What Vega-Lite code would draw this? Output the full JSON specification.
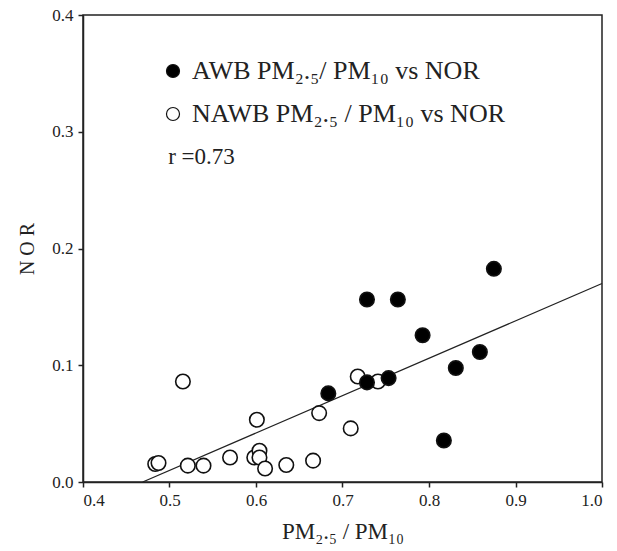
{
  "$schema": "https://vega.github.io/schema/vega-lite/v6.json",
  "autosize": {"type": "none"},
  "width": 519,
  "height": 467,
  "padding": {"left": 83, "top": 15, "right": 15, "bottom": 69},
  "background": "white",
  "config": {
    "view": {"stroke": "#222", "strokeWidth": 1.5},
    "font": "Liberation Serif",
    "axis": {"grid": false, "domainColor": "#222", "tickColor": "#222", "domainWidth": 1.5, "tickWidth": 1.5, "tickSize": 5, "labelColor": "#222", "titleColor": "#222", "labelFont": "Liberation Serif", "titleFont": "Liberation Serif", "labelFontSize": 17, "titleFontWeight": "normal"}
  },
  "datasets": {
    "pts": [
      {"x": 0.4835, "y": 0.0154, "group": "NAWB"},
      {"x": 0.4873, "y": 0.0163, "group": "NAWB"},
      {"x": 0.5155, "y": 0.0861, "group": "NAWB"},
      {"x": 0.5212, "y": 0.014, "group": "NAWB"},
      {"x": 0.5393, "y": 0.014, "group": "NAWB"},
      {"x": 0.570, "y": 0.021, "group": "NAWB"},
      {"x": 0.601, "y": 0.0533, "group": "NAWB"},
      {"x": 0.598, "y": 0.021, "group": "NAWB"},
      {"x": 0.604, "y": 0.0268, "group": "NAWB"},
      {"x": 0.604, "y": 0.021, "group": "NAWB"},
      {"x": 0.6105, "y": 0.0116, "group": "NAWB"},
      {"x": 0.635, "y": 0.0146, "group": "NAWB"},
      {"x": 0.666, "y": 0.0183, "group": "NAWB"},
      {"x": 0.673, "y": 0.059, "group": "NAWB"},
      {"x": 0.7095, "y": 0.0459, "group": "NAWB"},
      {"x": 0.7176, "y": 0.0904, "group": "NAWB"},
      {"x": 0.741, "y": 0.0861, "group": "NAWB"},
      {"x": 0.6836, "y": 0.0759, "group": "AWB"},
      {"x": 0.7283, "y": 0.1563, "group": "AWB"},
      {"x": 0.764, "y": 0.1563, "group": "AWB"},
      {"x": 0.7283, "y": 0.0853, "group": "AWB"},
      {"x": 0.7533, "y": 0.089, "group": "AWB"},
      {"x": 0.7926, "y": 0.1257, "group": "AWB"},
      {"x": 0.8172, "y": 0.0356, "group": "AWB"},
      {"x": 0.831, "y": 0.0976, "group": "AWB"},
      {"x": 0.8588, "y": 0.1113, "group": "AWB"},
      {"x": 0.875, "y": 0.1826, "group": "AWB"}
    ],
    "fit": [
      {"x": 0.469, "y": 0.0},
      {"x": 1.0, "y": 0.17}
    ],
    "note": [
      {"x": 0.4985, "y": 0.2785, "label": "r =0.73"}
    ]
  },
  "layer": [
    {
      "data": {"name": "fit"},
      "mark": {"type": "line", "color": "#222", "strokeWidth": 1.3},
      "encoding": {
        "x": {"field": "x", "type": "quantitative", "scale": {"domain": [0.4, 1.0], "nice": false, "zero": false},
              "axis": {"values": [0.4, 0.5, 0.6, 0.7, 0.8, 0.9, 1.0], "format": ".1f", "labelFontSize": 17, "title": "PM₂.₅ / PM₁₀", "titleFontSize": 23, "titlePadding": 12, "labelPadding": 5}},
        "y": {"field": "y", "type": "quantitative", "scale": {"domain": [0, 0.4], "nice": false},
              "axis": {"values": [0, 0.1, 0.2, 0.3, 0.4], "format": ".1f", "labelFontSize": 17, "title": "N O R", "titleFontSize": 20, "titlePadding": 14, "labelPadding": 5}}
      }
    },
    {
      "data": {"name": "pts"},
      "mark": {"type": "point", "shape": "circle", "size": 210, "stroke": "#111", "strokeWidth": 1.6, "opacity": 1, "filled": false},
      "encoding": {
        "x": {"field": "x", "type": "quantitative"},
        "y": {"field": "y", "type": "quantitative"},
        "fill": {
          "field": "group", "type": "nominal",
          "scale": {"domain": ["AWB", "NAWB"], "range": ["#000000", "#ffffff"]},
          "legend": {
            "orient": "none", "legendX": 77, "legendY": 43, "title": null,
            "labelExpr": "datum.value == 'AWB' ? 'AWB PM₂.₅/ PM₁₀ vs NOR' : 'NAWB PM₂.₅ / PM₁₀ vs NOR'",
            "labelFont": "Liberation Serif", "labelFontSize": 26, "labelColor": "#222", "labelLimit": 0,
            "symbolType": "circle", "symbolSize": 170, "symbolStrokeColor": "#111", "symbolStrokeWidth": 1.2,
            "rowPadding": 17, "labelOffset": 6, "symbolOpacity": 1
          }
        }
      }
    },
    {
      "data": {"name": "note"},
      "mark": {"type": "text", "fontSize": 23, "align": "left", "baseline": "middle", "color": "#222", "font": "Liberation Serif"},
      "encoding": {
        "x": {"field": "x", "type": "quantitative"},
        "y": {"field": "y", "type": "quantitative"},
        "text": {"field": "label"}
      }
    }
  ]
}
